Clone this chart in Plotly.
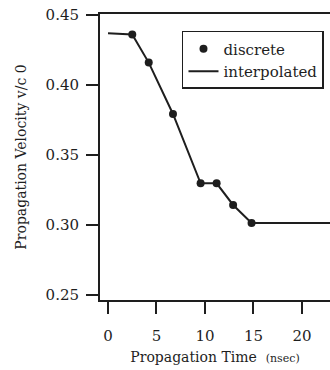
import plotly.graph_objects as go

# Data
discrete_x = [2.5, 4.2, 6.7, 9.55, 11.2, 12.9, 14.8]
discrete_y = [0.436, 0.416, 0.3793, 0.3298, 0.3298, 0.3143, 0.3015]
interp_x = [0.0] + discrete_x + [26.0]
interp_y = [0.437] + discrete_y + [0.3015]

y_ticks = [0.25, 0.30, 0.35, 0.40, 0.45]
y_tick_labels = ["0.25", "0.30", "0.35", "0.40", "0.45"]
x_ticks = [0, 5, 10, 15, 20]
x_tick_labels = ["0", "5", "10", "15", "20"]

FONT = "DejaVu Serif"
INK = "#1e1e1e"

fig = go.Figure()
fig.add_trace(go.Scatter(
    x=discrete_x, y=discrete_y, mode="markers", name="discrete",
    marker=dict(color=INK, size=8, symbol="circle"),
))
fig.add_trace(go.Scatter(
    x=interp_x, y=interp_y, mode="lines", name="interpolated",
    line=dict(color=INK, width=2),
))

fig.update_layout(
    width=330, height=370,
    margin=dict(l=100, r=0, t=14, b=70),
    paper_bgcolor="white", plot_bgcolor="white",
    font=dict(family=FONT, color=INK, size=14),
    showlegend=True,
    legend=dict(
        x=0.3565, y=0.9406, xanchor="left", yanchor="top",
        bgcolor="white", bordercolor=INK, borderwidth=1.5,
        font=dict(family=FONT, size=15, color=INK),
        tracegroupgap=0, itemwidth=30,
    ),
    xaxis=dict(
        range=[-0.825, 22.89],
        tickvals=x_ticks, ticktext=x_tick_labels,
        ticks="outside", ticklen=12, tickwidth=2, tickcolor=INK,
        ticklabelstandoff=9,
        showline=True, linecolor=INK, linewidth=2, mirror=True,
        showgrid=False, zeroline=False,
        tickfont=dict(family=FONT, size=15, color=INK),
        title=dict(text="Propagation Time  <span style='font-size:11px'>(nsec)</span>",
                   font=dict(family=FONT, size=14, color=INK), standoff=8),
    ),
    yaxis=dict(
        range=[0.24643, 0.45071],
        tickvals=y_ticks, ticktext=y_tick_labels,
        ticks="outside", ticklen=12, tickwidth=2, tickcolor=INK,
        ticklabelstandoff=4,
        showline=True, linecolor=INK, linewidth=2, mirror=False,
        showgrid=False, zeroline=False,
        tickfont=dict(family=FONT, size=15, color=INK),
        title=dict(text="Propagation Velocity v/c 0",
                   font=dict(family=FONT, size=14, color=INK), standoff=16),
    ),
)

fig.write_html("out.html")
